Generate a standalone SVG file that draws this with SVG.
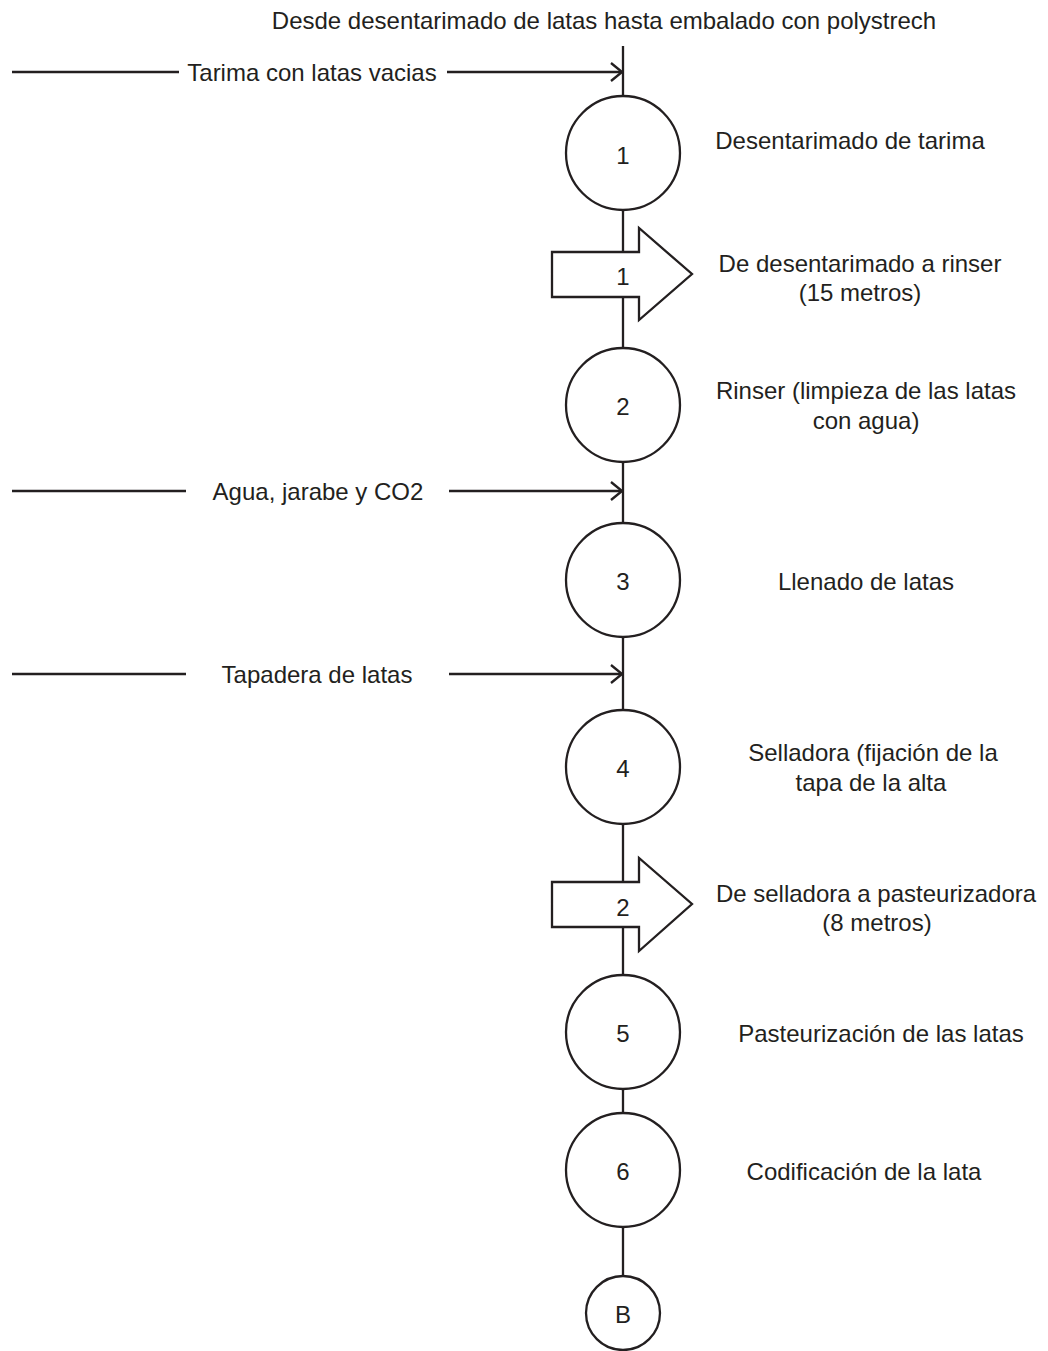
<svg xmlns="http://www.w3.org/2000/svg" width="1048" height="1351" viewBox="0 0 1048 1351">
<style>
text{font-family:"Liberation Sans",Arial,sans-serif;font-size:24px;fill:#231f20;text-anchor:middle;dominant-baseline:central}
.s{fill:#fff;stroke:#231f20;stroke-width:2.3}
.l{fill:none;stroke:#231f20;stroke-width:2.3}
</style>
<defs>
<marker id="ah" viewBox="0 0 13 20" refX="12" refY="10" markerWidth="13" markerHeight="20" markerUnits="userSpaceOnUse" orient="auto">
<path d="M1,1 L12,10 L1,19" fill="none" stroke="#231f20" stroke-width="2.3"/>
</marker>
</defs>
<rect width="1048" height="1351" fill="#fff"/>
<text x="604" y="20">Desde desentarimado de latas hasta embalado con polystrech</text>
<g id="connectors">
<line class="l" x1="623" y1="46" x2="623" y2="1277"/>
<line class="l" x1="12" y1="72" x2="179" y2="72"/>
<line class="l" x1="447" y1="72" x2="622" y2="72" marker-end="url(#ah)"/>
<line class="l" x1="12" y1="491" x2="186" y2="491"/>
<line class="l" x1="449" y1="491" x2="622" y2="491" marker-end="url(#ah)"/>
<line class="l" x1="12" y1="674" x2="186" y2="674"/>
<line class="l" x1="449" y1="674" x2="622" y2="674" marker-end="url(#ah)"/>
</g>
<text x="312" y="72">Tarima con latas vacias</text>
<text x="318" y="491">Agua, jarabe y CO2</text>
<text x="317" y="674">Tapadera de latas</text>
<g id="n1"><circle class="s" cx="623" cy="153" r="57"/><text x="623" y="155">1</text><text x="850" y="140">Desentarimado de tarima</text></g>
<g id="t1"><path class="s" d="M552,252 H639 V228 L692,274 L639,320 V297 H552 Z"/><text x="623" y="276">1</text><text x="860" y="263">De desentarimado a rinser</text><text x="860" y="292">(15 metros)</text></g>
<g id="n2"><circle class="s" cx="623" cy="405" r="57"/><text x="623" y="406">2</text><text x="866" y="390">Rinser (limpieza de las latas</text><text x="866" y="420">con agua)</text></g>
<g id="n3"><circle class="s" cx="623" cy="580" r="57"/><text x="623" y="581">3</text><text x="866" y="581">Llenado de latas</text></g>
<g id="n4"><circle class="s" cx="623" cy="767" r="57"/><text x="623" y="768">4</text><text x="873" y="752">Selladora (fijación de la</text><text x="871" y="782">tapa de la alta</text></g>
<g id="t2"><path class="s" d="M552,882 H639 V858 L692,904 L639,951 V927 H552 Z"/><text x="623" y="907">2</text><text x="876" y="893">De selladora a pasteurizadora</text><text x="877" y="922">(8 metros)</text></g>
<g id="n5"><circle class="s" cx="623" cy="1032" r="57"/><text x="623" y="1033">5</text><text x="881" y="1033">Pasteurización de las latas</text></g>
<g id="n6"><circle class="s" cx="623" cy="1170" r="57"/><text x="623" y="1171">6</text><text x="864" y="1171">Codificación de la lata</text></g>
<g id="nB"><circle class="s" cx="623" cy="1313" r="37"/><text x="623" y="1314">B</text></g>
</svg>
